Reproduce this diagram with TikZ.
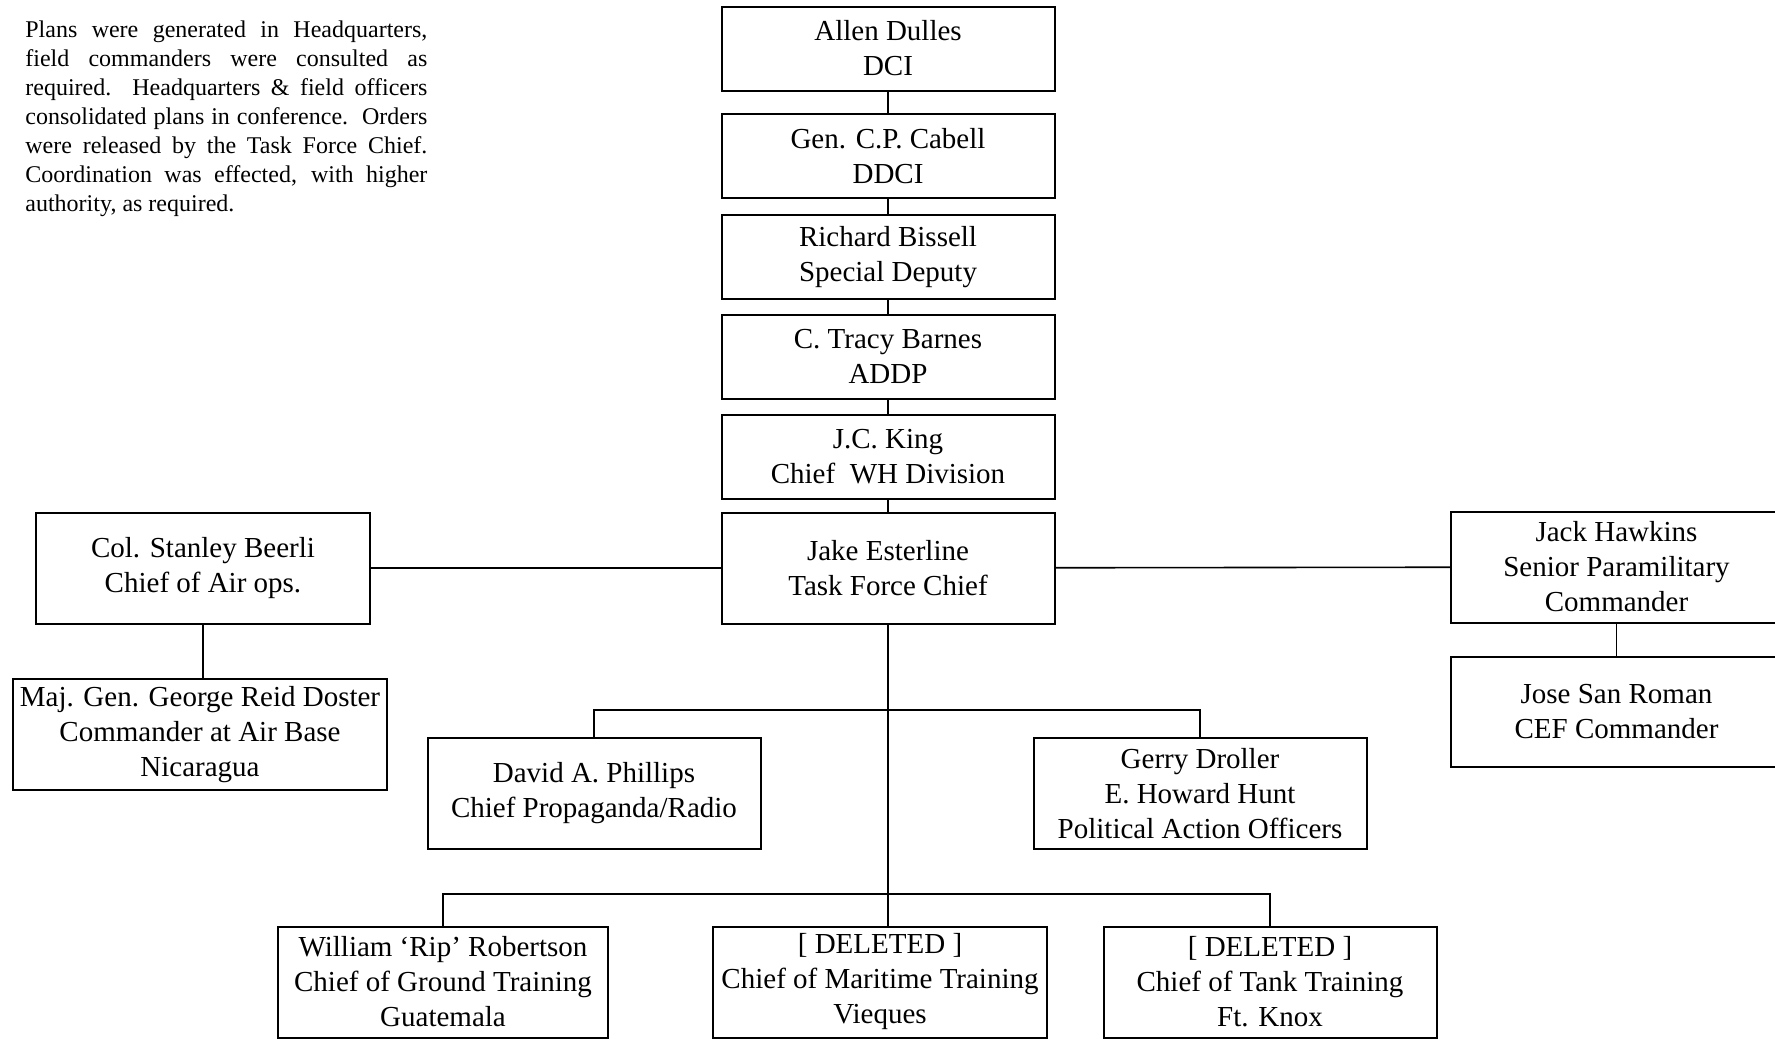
\documentclass[tikz,border=0pt]{standalone}
\usepackage{fontspec}
\setmainfont{Liberation Serif}
\usepackage{tikz}
\usetikzlibrary{positioning,calc}
\newcommand{\boxfont}{\fontsize{14.5}{17.5}\selectfont}
\newcommand{\notefont}{\fontsize{12}{14.5}\selectfont\hyphenpenalty=10000\exhyphenpenalty=10000}
\tikzset{
block/.style = {draw, fill=white, rectangle, align = center, line width=1pt, minimum width=166.5pt, minimum height=42pt, inner sep=1pt, font=\boxfont},
tallblock/.style = {block, minimum height=55.5pt},
link/.style = {line width=0.8pt},
note/.style = {anchor=north west, text width=201pt, align=justify, inner sep=0pt, font=\notefont},
}

\begin{document}
\begin{tikzpicture}[x=0.5pt, y=0.5pt, node distance=50.5pt]
      \useasboundingbox (0,0) rectangle (1775,-1039);
      \node [note] (plans) at (25,-20)
         {Plans were generated in Headquarters,\linebreak field commanders were consulted as\linebreak required.\ \ Headquarters \& field officers\linebreak consolidated plans in conference.\ \ Orders\linebreak were released by the Task Force Chief.\linebreak Coordination was effected, with higher\linebreak authority, as required.};
      % chain of command
      \node [block] (dci) at (888,-48.5) {Allen Dulles\\DCI};
      \node [block, below of = dci, node distance = 53.75pt] (ddci) {Gen. C.P. Cabell\\DDCI};
      \node [block, below of = ddci] (bissell) {Richard Bissell\\Special Deputy};
      \node [block, below of = bissell, node distance = 49.75pt] (barnes) {C. Tracy Barnes\\ADDP};
      \node [block, below of = barnes, node distance = 50pt] (king) {J.C. King\\Chief\ \ WH Division};
      \node [tallblock, below of = king, node distance = 55.75pt] (esterline) {Jake Esterline\\Task Force Chief};
      % side branches
      \node [tallblock, minimum width=167pt] (beerli) at (203,-568) {Col. Stanley Beerli\\Chief of Air ops.};
      \node [tallblock, minimum width=187pt] (doster) at (200,-734.5) {Maj. Gen. George Reid Doster\\Commander at Air Base\\Nicaragua};
      \node [tallblock, minimum width=165.5pt] (hawkins) at (1616.5,-567) {Jack Hawkins\\Senior Paramilitary\\Commander};
      \node [tallblock, minimum width=165.5pt, minimum height=55pt] (sanroman) at (1616.5,-711.5) {Jose San Roman\\CEF Commander};
      % staff
      \node [tallblock] (phillips) at (594,-793.5) {David A. Phillips\\Chief Propaganda/Radio};
      \node [tallblock] (droller) at (1200,-793.5) {Gerry Droller\\E. Howard Hunt\\Political Action Officers};
      % training
      \node [tallblock, minimum width=165pt] (robertson) at (443,-982) {William `Rip' Robertson\\Chief of Ground Training\\Guatemala};
      \node [tallblock, minimum width=167pt] (maritime) at (880,-982) {[ DELETED ]\\Chief of Maritime Training\\Vieques};
      \node [tallblock] (tank) at (1270,-982) {[ DELETED ]\\Chief of Tank Training\\Ft. Knox};
      \coordinate (midbus) at (888,-710);
      \coordinate (lowbus) at (888,-894);
      \draw [link] (dci) -- (ddci);
      \draw [link] (ddci) -- (bissell);
      \draw [link] (bissell) -- (barnes);
      \draw [link] (barnes) -- (king);
      \draw [link] (king) -- (esterline);
      \draw [link] (esterline) -- (beerli);
      \draw [link] (esterline) -- (hawkins);
      \draw [link] (beerli.south) -- (beerli.south |- doster.north);
      \draw [link] (hawkins) -- (sanroman);
      \draw [link] (esterline.south) -- (esterline.south |- maritime.north);
      \draw [link] (phillips.north) |- (midbus) -| (droller.north);
      \draw [link] (robertson.north) |- (lowbus) -| (tank.north);
\end{tikzpicture}
\end{document}
